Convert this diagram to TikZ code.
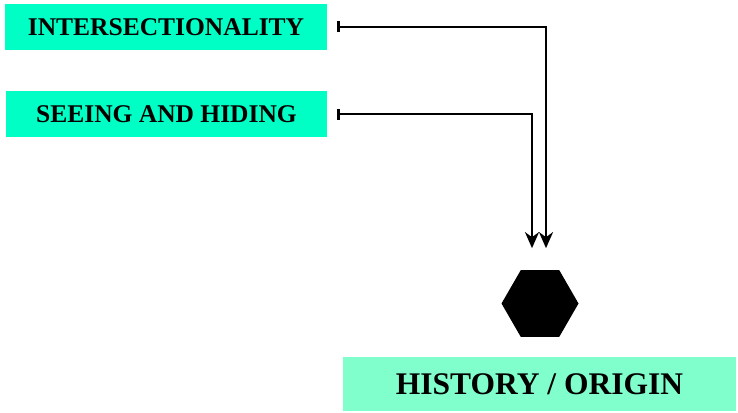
\documentclass[tikz,border=0pt]{standalone}
\usepackage{fontspec}
\setmainfont{Liberation Serif}
\usetikzlibrary{shapes.geometric,arrows.meta}
\definecolor{boxA}{HTML}{00FFC5}
\definecolor{boxB}{HTML}{80FFCC}
\tikzset{
  lab/.style={fill=boxA, inner sep=0pt, font=\bfseries\fontsize{25.5}{28}\selectfont},
  big/.style={fill=boxB, inner sep=0pt, font=\bfseries\fontsize{31.5}{34}\selectfont},
  conn/.style={line width=2.4pt, {Bar[width=11pt,line width=2.4pt]}-{Stealth[length=16pt,width=14pt,inset=5pt]}, shorten <=10pt, shorten >=22pt}
}
\begin{document}
\begin{tikzpicture}[x=1pt,y=1pt]
\useasboundingbox (0,0) rectangle (738,-412);
\node[lab, minimum width=322pt, minimum height=46pt] (a) at (166,-27) {INTERSECTIONALITY};
\node[lab, minimum width=321pt, minimum height=46pt] (b) at (166.5,-114) {SEEING AND HIDING};
\node[regular polygon, regular polygon sides=6, fill=black, inner sep=0pt, outer sep=0pt, minimum size=77pt] (h) at (540,-303.5) {};
\node[big, minimum width=393pt, minimum height=54pt] (c) at (539.5,-384) {HISTORY / ORIGIN};
\draw[conn] (a.east) -| ([xshift=6pt]h.north);
\draw[conn] (b.east) -| ([xshift=-8pt]h.north);
\end{tikzpicture}
\end{document}
